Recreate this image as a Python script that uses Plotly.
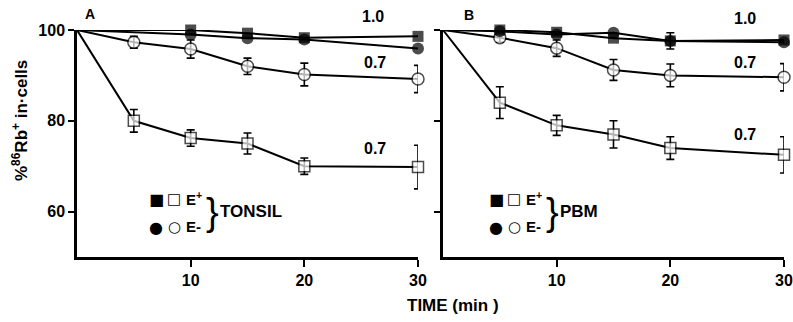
import plotly.graph_objects as go

# Sampling times (min)
time_a_closed = [0, 10, 15, 20, 30]
time_open = [0, 5, 10, 15, 20, 30]
time_b = [0, 5, 10, 15, 20, 30]

# Panel A - tonsil cells, % 86Rb+ retained
a_eplus_closed = [100, 100, 99.3, 98.3, 98.6]
a_eminus_closed = [100, 99.0, 98.2, 97.9, 95.9]
a_eminus_open = [100, 97.3, 95.8, 92.0, 90.2, 89.2]
a_eminus_open_err = [0, 1.3, 2.0, 1.8, 2.5, 3.0]
a_eplus_open = [100, 80.0, 76.2, 75.0, 70.0, 69.8]
a_eplus_open_err = [0, 2.5, 1.8, 2.3, 1.8, 4.8]

# Panel B - peripheral blood mononuclear cells
b_eplus_closed = [100, 100, 99.5, 98.2, 97.6, 97.8]
b_eplus_closed_err = [0, 0, 0, 0, 1.8, 0]
b_eminus_closed = [100, 99.7, 99.0, 99.4, 97.6, 97.3]
b_eminus_open = [100, 98.3, 96.0, 91.2, 90.0, 89.6]
b_eminus_open_err = [0, 1.0, 1.8, 2.3, 2.5, 3.0]
b_eplus_open = [100, 84.0, 79.0, 77.0, 74.0, 72.5]
b_eplus_open_err = [0, 3.5, 2.2, 3.0, 2.5, 4.0]

# Curve labels (ratio values) placed next to the curves
label_text = ["1.0", "0.7", "0.7"]
label_x_a = [26.0, 26.2, 26.2]
label_y_a = [103.0, 92.8, 74.0]
label_x_b = [26.6, 26.6, 26.6]
label_y_b = [102.6, 92.8, 76.9]

X_RANGE = [0, 30]
Y_RANGE = [50, 100]

W, H = 793, 322
FONT = "Liberation Sans"
INK = "black"

# Plot-area placement (pixels)
PANEL_A_X = [77, 418]
PANEL_B_X = [443, 784]
PLOT_Y = [30, 257]  # top, bottom
y_domain = [1 - PLOT_Y[1] / H, 1 - PLOT_Y[0] / H]
xa_domain = [PANEL_A_X[0] / W, PANEL_A_X[1] / W]
xb_domain = [PANEL_B_X[0] / W, PANEL_B_X[1] / W]


def to_paper(x, y, xdom):
    """Map data coordinates of a panel to paper coordinates."""
    px = xdom[0] + (x - X_RANGE[0]) / (X_RANGE[1] - X_RANGE[0]) * (xdom[1] - xdom[0])
    py = y_domain[0] + (y - Y_RANGE[0]) / (Y_RANGE[1] - Y_RANGE[0]) * (y_domain[1] - y_domain[0])
    return px, py


def error_layer(xa, ya, x, y, err):
    # error bars drawn on their own, underneath the markers
    return go.Scatter(
        x=x, y=y, xaxis=xa, yaxis=ya, mode="markers",
        marker=dict(size=0, color=INK, opacity=0),
        error_y=dict(type="data", array=err, visible=True,
                     color=INK, thickness=1.6, width=4),
        cliponaxis=False, showlegend=False, hoverinfo="skip",
    )


def series(xa, ya, x, y, symbol, filled, size):
    sizes = [0] + [size] * (len(x) - 1)
    return go.Scatter(
        x=x, y=y, xaxis=xa, yaxis=ya, mode="lines+markers",
        line=dict(color=INK, width=2),
        marker=dict(symbol=symbol, size=sizes,
                    color=INK if filled else "white",
                    line=dict(color=INK, width=0 if filled else 1.5)),
        cliponaxis=False, showlegend=False, hoverinfo="x+y",
    )


fig = go.Figure()
# Error bars first so the markers sit on top of them
fig.add_trace(error_layer("x", "y", time_open, a_eplus_open, a_eplus_open_err))
fig.add_trace(error_layer("x", "y", time_open, a_eminus_open, a_eminus_open_err))
fig.add_trace(error_layer("x2", "y2", time_b, b_eplus_open, b_eplus_open_err))
fig.add_trace(error_layer("x2", "y2", time_b, b_eminus_open, b_eminus_open_err))
fig.add_trace(error_layer("x2", "y2", time_b, b_eplus_closed, b_eplus_closed_err))

# Panel A
fig.add_trace(series("x", "y", time_open, a_eplus_open, "square", False, 11))
fig.add_trace(series("x", "y", time_open, a_eminus_open, "circle", False, 12))
fig.add_trace(series("x", "y", time_a_closed, a_eminus_closed, "circle", True, 12))
fig.add_trace(series("x", "y", time_a_closed, a_eplus_closed, "square", True, 11))
# Panel B
fig.add_trace(series("x2", "y2", time_b, b_eplus_open, "square", False, 11))
fig.add_trace(series("x2", "y2", time_b, b_eminus_open, "circle", False, 12))
fig.add_trace(series("x2", "y2", time_b, b_eminus_closed, "circle", True, 12))
fig.add_trace(series("x2", "y2", time_b, b_eplus_closed, "square", True, 11))

tickfont = dict(family=FONT, size=16, color=INK, weight="bold")
xcommon = dict(range=X_RANGE, tickvals=[10, 20, 30], ticks="outside", ticklen=7,
               tickwidth=2, tickcolor=INK, showline=True, linewidth=2.5,
               linecolor=INK, showgrid=False, zeroline=False, tickfont=tickfont,
               automargin=False)
ycommon = dict(range=Y_RANGE, tickvals=[60, 80, 100], ticks="outside", ticklen=6,
               tickwidth=2, tickcolor=INK, showline=True, linewidth=2.5,
               linecolor=INK, showgrid=False, zeroline=False, tickfont=tickfont,
               domain=y_domain, automargin=False)

fig.update_layout(
    width=W, height=H, margin=dict(l=0, r=0, t=0, b=0, pad=0),
    paper_bgcolor="white", plot_bgcolor="white",
    xaxis=dict(xcommon, domain=xa_domain, anchor="y"),
    yaxis=dict(ycommon, anchor="x"),
    xaxis2=dict(xcommon, domain=xb_domain, anchor="y2"),
    yaxis2=dict(ycommon, anchor="x2", showticklabels=False),
)

bold = dict(family=FONT, color=INK, weight="bold")


def note(x, y, text, font, **kw):
    a = dict(x=x, y=y, xref="paper", yref="paper", text=text, showarrow=False,
             xanchor="center", yanchor="middle", font=font)
    a.update(kw)
    return a


ann = []
for t, x, y in zip(label_text, label_x_a, label_y_a):
    px, py = to_paper(x, y, xa_domain)
    ann.append(note(px, py, t, dict(bold, size=16)))
for t, x, y in zip(label_text, label_x_b, label_y_b):
    px, py = to_paper(x, y, xb_domain)
    ann.append(note(px, py, t, dict(bold, size=16)))

# Panel letters
ann.append(note(90 / W, 1 - 14 / H, "A", dict(bold, size=14)))
ann.append(note(469 / W, 1 - 15 / H, "B", dict(bold, size=14)))

# Axis titles
ann.append(note(20 / W, 1 - 121 / H, "%<sup>86</sup>Rb<sup>+</sup> in·cells",
                dict(bold, size=17), textangle=-90))
ann.append(note(453 / W, 1 - 305 / H, "TIME (min )", dict(bold, size=17)))


def key_block(x0, group):
    sym = dict(family="DejaVu Sans", color=INK)
    return [
        note(x0 / W, 1 - 199 / H, "■", dict(sym, size=16)),
        note((x0 + 18) / W, 1 - 199 / H, "□", dict(sym, size=15)),
        note((x0 + 28) / W, 1 - 198 / H, "E<sup>+</sup>", dict(bold, size=15), xanchor="left"),
        note(x0 / W, 1 - 227 / H, "●", dict(sym, size=16)),
        note((x0 + 18) / W, 1 - 227 / H, "○", dict(sym, size=15)),
        note((x0 + 28) / W, 1 - 226 / H, "E-", dict(bold, size=15), xanchor="left"),
        note((x0 + 48) / W, 1 - 212 / H, "}", dict(family=FONT, color=INK, size=38),
             xanchor="left"),
        note((x0 + 62) / W, 1 - 211 / H, group, dict(bold, size=17), xanchor="left"),
    ]


ann += key_block(156, "TONSIL")
ann += key_block(496, "PBM")
fig.update_layout(annotations=ann)

fig.write_html("out.html")
